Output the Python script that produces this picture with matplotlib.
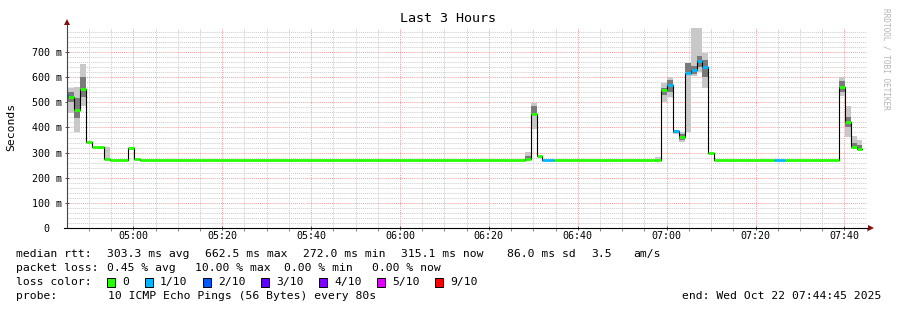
import datetime as dt
import numpy as np
import matplotlib
matplotlib.use("Agg")
import matplotlib.pyplot as plt
import matplotlib.dates as mdates
from matplotlib.patches import Rectangle
from matplotlib.lines import Line2D

# ---------------- data ----------------
day = "2025-10-22"
x_start = "04:45:05"
x_end = "07:45:05"
data_end = "07:44:04"

seg_start = ["04:44:04", "04:45:24", "04:46:44", "04:48:04", "04:49:24", "04:50:44",
             "04:53:24", "04:54:44", "04:58:44", "05:00:04", "05:01:24",
             "06:28:04", "06:29:24", "06:30:44", "06:32:04", "06:34:44",
             "06:57:24", "06:58:44", "07:00:04", "07:01:24", "07:02:44", "07:04:04",
             "07:05:24", "07:06:44", "07:08:04", "07:09:24", "07:10:44",
             "07:24:04", "07:26:44", "07:38:44", "07:40:04", "07:41:24", "07:42:44"]
median_ms = [529, 521, 469, 554, 341, 323,
             275, 272, 319, 275, 272,
             276, 453, 287, 272, 272,
             272, 547, 568, 384, 362, 618,
             630, 662.5, 641, 300, 272,
             272, 272, 562, 420, 323, 315.1]
loss = [1, 0, 0, 0, 0, 0,
        0, 0, 0, 0, 0,
        0, 0, 0, 1, 0,
        0, 0, 1, 1, 0, 1,
        1, 1, 1, 0, 0,
        1, 0, 0, 0, 0, 0]
nan = np.nan
smoke_lo = [457, 457, 380, 485, nan, nan,
            274, nan, nan, nan, nan,
            272, 393, nan, nan, nan,
            272, 501, 523, 372, 344, 380,
            603, 622, 555, nan, nan,
            nan, nan, 525, 363, 318, 311]
smoke_hi = [597, 557, 560, 652, nan, nan,
            322, nan, nan, nan, nan,
            301, 496, nan, nan, nan,
            284, 575, 600, 390, 381, 658,
            830, 830, 695, nan, nan,
            nan, nan, 599, 486, 366, 350]
core_lo = [495, 500, 437, 521, nan, nan,
           nan, nan, nan, nan, nan,
           272, 450, nan, nan, nan,
           nan, 529, 540, 376, 350, 620,
           612, 641, 600, nan, nan,
           nan, nan, 540, 403, 320, 312]
core_hi = [545, 540, 517, 600, nan, nan,
           nan, nan, nan, nan, nan,
           285, 485, nan, nan, nan,
           nan, 556, 590, 388, 372, 655,
           645, 685, 670, nan, nan,
           nan, nan, 585, 443, 340, 330]

loss_levels = ["0", "1/10", "2/10", "3/10", "4/10", "5/10", "9/10"]
loss_colors = ["#26ff00", "#00b8ff", "#0059ff", "#5e00ff", "#7e00ff", "#dd00ff", "#ff0000"]

y_ticks = [0, 100, 200, 300, 400, 500, 600, 700]
y_ticklabels = ["0  ", "100 m", "200 m", "300 m", "400 m", "500 m", "600 m", "700 m"]

title = "Last 3 Hours"
ylabel = "Seconds"
legend_rtt = ["median rtt:", "303.3 ms avg", "662.5 ms max", "272.0 ms min",
              "315.1 ms now", "86.0 ms sd", "3.5", "am/s"]
legend_loss = ["packet loss:", "0.45 % avg", "10.00 % max", "0.00 % min", "0.00 % now"]
probe_label = "probe:"
probe_text = "10 ICMP Echo Pings (56 Bytes) every 80s"
end_text = "end: Wed Oct 22 07:44:45 2025"
watermark = "RRDTOOL / TOBI OETIKER"

# ---------------- drawing ----------------
W, H = 897, 310
MONO = "DejaVu Sans Mono"
plt.rcParams["font.family"] = MONO

def T(s):
    return mdates.date2num(dt.datetime.strptime(day + " " + s, "%Y-%m-%d %H:%M:%S"))

fig = plt.figure(figsize=(W / 100, H / 100), dpi=100)
fig.patch.set_facecolor("white")
L, R, B, TOP = 67, 867, 228, 27.9
ax = fig.add_axes([L / W, 1 - B / H, (R - L) / W, (B - TOP) / H])
ax.set_facecolor("white")

starts = np.array([T(s) for s in seg_start])
ends = np.append(starts[1:], T(data_end))

# smoke
for s, e, lo, hi, clo, chi in zip(starts, ends, smoke_lo, smoke_hi, core_lo, core_hi):
    if not np.isnan(lo):
        ax.bar(s, hi - lo, width=e - s, bottom=lo, align="edge", color="#c8c8c8",
               linewidth=0, zorder=2)
    if not np.isnan(clo):
        ax.bar(s, chi - clo, width=e - s, bottom=clo, align="edge", color="#7a7a7a",
               linewidth=0, zorder=2.1)

# black median step line
xs = np.append(starts, ends[-1])
ys = np.append(median_ms, median_ms[-1])
ax.step(xs, ys, where="post", color="black", lw=0.8, zorder=3)

# coloured median by loss
for s, e, m, l in zip(starts, ends, median_ms, loss):
    ax.hlines(m, s, e, color=loss_colors[l], lw=2.0, zorder=4, capstyle="butt")

ax.set_xlim(T(x_start), T(x_end))
ax.set_ylim(0, 796)

ax.xaxis.set_major_locator(mdates.MinuteLocator(byminute=[0, 20, 40]))
ax.xaxis.set_minor_locator(mdates.MinuteLocator(byminute=range(0, 60, 5)))
ax.xaxis.set_major_formatter(mdates.DateFormatter("%H:%M"))
ax.set_yticks(y_ticks)
ax.set_yticklabels(y_ticklabels)
ax.set_yticks(np.arange(0, 796, 20), minor=True)

ax.grid(which="minor", color="#cccccc", linestyle=(0, (1, 1)), lw=0.7, zorder=0)
ax.grid(which="major", color="#f2a0a0", linestyle=(0, (1, 1)), lw=0.7, zorder=0.5)
ax.set_axisbelow(True)

ax.tick_params(axis="both", which="major", labelsize=7.2, length=3, width=0.7,
               color="#555555", direction="inout")
ax.tick_params(axis="x", which="minor", length=2, width=0.7, color="#888888",
               direction="out")
ax.tick_params(axis="y", which="minor", length=0)
ax.tick_params(axis="x", which="major", pad=0.5)
ax.tick_params(axis="y", which="major", pad=2.0)
for sp in ax.spines.values():
    sp.set_visible(False)

# axis lines with arrows
fig.add_artist(Line2D([L / W, L / W], [1 - B / H, 1 - 22 / H], color="#444444", lw=0.8))
fig.add_artist(Line2D([(L - 3) / W, 869 / W], [1 - B / H, 1 - B / H], color="black", lw=0.8))
fig.add_artist(Line2D([L / W], [1 - 22 / H], marker="^", markersize=4, color="#7f1010",
                      markeredgewidth=0))
fig.add_artist(Line2D([871 / W], [1 - B / H], marker=">", markersize=4, color="#7f1010",
                      markeredgewidth=0))

fig.text(448 / W, 1 - 19 / H, title, ha="center", va="center", fontsize=9.6)
fig.text(11 / W, 1 - 127 / H, ylabel, rotation=90, ha="center", va="center", fontsize=8.2)
fig.text(886 / W, 1 - 59 / H, watermark, rotation=270, ha="center", va="center",
         fontsize=5.6, color="#b4b4b4")

FS = 8.2
rtt_x = [16, 107, 205, 303, 401, 507, 591, 633]
for x, s in zip(rtt_x, legend_rtt):
    fig.text(x / W, 1 - 254 / H, s, ha="left", va="center", fontsize=FS)
loss_x = [16, 107, 195, 284, 372]
for x, s in zip(loss_x, legend_loss):
    fig.text(x / W, 1 - 268 / H, s, ha="left", va="center", fontsize=FS)

fig.text(16 / W, 1 - 282 / H, "loss color:", ha="left", va="center", fontsize=FS)
box_x = [107, 145, 203, 261, 319, 377, 435]
for x, c, s in zip(box_x, loss_colors, loss_levels):
    fig.add_artist(Rectangle((x / W, 1 - 287 / H), 8 / W, 9 / H, transform=fig.transFigure,
                             facecolor=c, edgecolor="black", lw=0.7))
    fig.text((x + 15) / W, 1 - 282 / H, s, ha="left", va="center", fontsize=FS)

fig.text(16 / W, 1 - 296 / H, probe_label, ha="left", va="center", fontsize=FS)
fig.text(108 / W, 1 - 296 / H, probe_text, ha="left", va="center", fontsize=FS)
fig.text(881 / W, 1 - 296 / H, end_text, ha="right", va="center", fontsize=FS)

fig.savefig("out.png", dpi=100, facecolor="white")
